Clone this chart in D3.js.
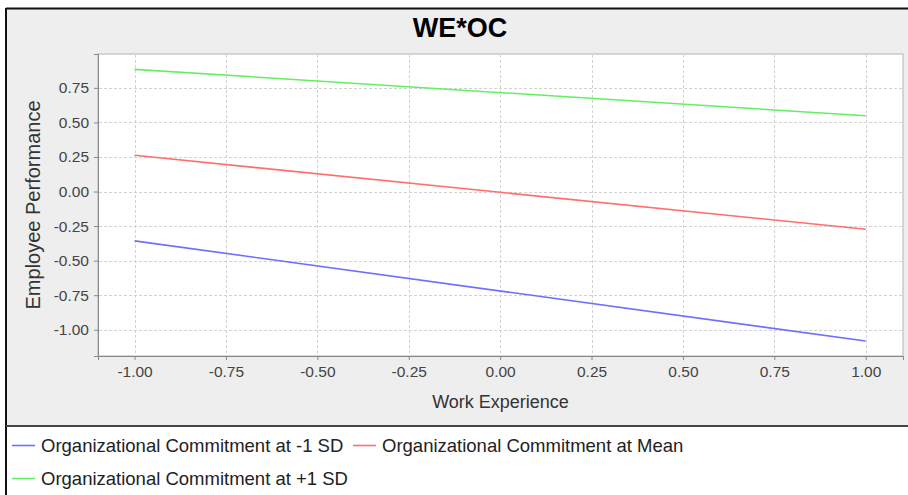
<!DOCTYPE html>
<html>
<head>
<meta charset="utf-8">
<script src="https://cdn.jsdelivr.net/npm/d3@7"></script>
<style>
  body { margin: 0; background: #fff; }
  svg { display: block; font-family: "Liberation Sans", Arial, sans-serif; }
  .tick text { fill: #444; font-size: 15.5px; }
</style>
</head>
<body>
<svg id="chart" width="908" height="495"></svg>
<script>
// ---- data ----
const workExperience = [-1, 1];
const ocLow = [-0.357, -1.082];
const ocMean = [0.262, -0.273];
const ocHigh = [0.884, 0.548];
const seriesNames = [
  "Organizational Commitment at -1 SD",
  "Organizational Commitment at Mean",
  "Organizational Commitment at +1 SD"
];
const xTicks = [-1, -0.75, -0.5, -0.25, 0, 0.25, 0.5, 0.75, 1];
const yTicks = [-1, -0.75, -0.5, -0.25, 0, 0.25, 0.5, 0.75];

const colors = ["#6e6eff", "#ff6e6e", "#62f062"];
const series = [ocLow, ocMean, ocHigh];

const svg = d3.select("#chart");

// panel backgrounds
svg.append("rect").attr("x", 6).attr("y", 8).attr("width", 920).attr("height", 418)
  .attr("fill", "#eeeeee");
svg.append("line").attr("x1", 6).attr("x2", 908).attr("y1", 8.5).attr("y2", 8.5)
  .attr("stroke", "#111").attr("stroke-width", 2);
svg.append("line").attr("x1", 6).attr("x2", 6).attr("y1", 8).attr("y2", 495)
  .attr("stroke", "#111").attr("stroke-width", 2);
svg.append("line").attr("x1", 6).attr("x2", 908).attr("y1", 426).attr("y2", 426)
  .attr("stroke", "#444").attr("stroke-width", 2);

const margin = { left: 98, top: 54, right: 903, bottom: 356 };

const x = d3.scaleLinear().domain([-1.1, 1.102]).range([margin.left, margin.right]);
const y = d3.scaleLinear().domain([-1.19, 0.995]).range([margin.bottom, margin.top]);

// plot area
svg.append("rect")
  .attr("x", margin.left).attr("y", margin.top)
  .attr("width", margin.right - margin.left).attr("height", margin.bottom - margin.top)
  .attr("fill", "#fff").attr("stroke", "#b4b4b4");

// grid
const grid = svg.append("g").attr("stroke", "#d2d2d2").attr("stroke-dasharray", "3,2");
grid.selectAll(".gx").data(xTicks).join("line")
  .attr("x1", d => Math.round(x(d)) + 0.5).attr("x2", d => Math.round(x(d)) + 0.5)
  .attr("y1", margin.top + 1).attr("y2", margin.bottom - 1);
grid.selectAll(".gy").data(yTicks).join("line")
  .attr("y1", d => Math.round(y(d)) + 0.5).attr("y2", d => Math.round(y(d)) + 0.5)
  .attr("x1", margin.left + 1).attr("x2", margin.right - 1);

// axes
const fmt = d => d3.format(".2f")(d).replace("−", "-");
const xAxis = svg.append("g")
  .attr("transform", `translate(0,${margin.bottom})`)
  .call(d3.axisBottom(x).tickValues(xTicks).tickFormat(fmt).tickSizeOuter(0).tickSize(4).tickPadding(6));
const yAxis = svg.append("g")
  .attr("transform", `translate(${margin.left},0)`)
  .call(d3.axisLeft(y).tickValues(yTicks).tickFormat(fmt).tickSizeOuter(0).tickSize(4).tickPadding(5));
[xAxis, yAxis].forEach(a => {
  a.select(".domain").attr("stroke", "#888");
  a.selectAll(".tick line").attr("stroke", "#888");
  a.attr("font-family", null).attr("font-size", null);
});

// lines
const line = d3.line().x((d, i) => x(workExperience[i])).y(d => y(d));
svg.append("g").selectAll("path").data(series).join("path")
  .attr("d", d => line(d))
  .attr("fill", "none")
  .attr("stroke", (d, i) => colors[i])
  .attr("stroke-width", 1.6);

// titles
svg.append("text").attr("x", 460).attr("y", 37).attr("text-anchor", "middle")
  .attr("font-size", 27).attr("font-weight", "bold").attr("fill", "#000").text("WE*OC");
svg.append("text").attr("x", (margin.left + margin.right) / 2).attr("y", 408)
  .attr("text-anchor", "middle").attr("font-size", 18).attr("fill", "#333").text("Work Experience");
svg.append("text").attr("transform", `translate(40,${(margin.top + margin.bottom) / 2}) rotate(-90)`)
  .attr("text-anchor", "middle").attr("font-size", 20).attr("fill", "#333").text("Employee Performance");

// legend
const legendPos = [[12, 445], [353, 445], [12, 478]];
const lg = svg.append("g").selectAll("g").data(seriesNames).join("g")
  .attr("transform", (d, i) => `translate(${legendPos[i][0]},${legendPos[i][1]})`);
lg.append("line").attr("x1", 0).attr("x2", 23).attr("y1", 0.5).attr("y2", 0.5)
  .attr("stroke", (d, i) => colors[i]).attr("stroke-width", 1.6);
lg.append("text").attr("x", 29).attr("y", 6.5).attr("font-size", 18.5).attr("fill", "#222")
  .text(d => d);
</script>
</body>
</html>
